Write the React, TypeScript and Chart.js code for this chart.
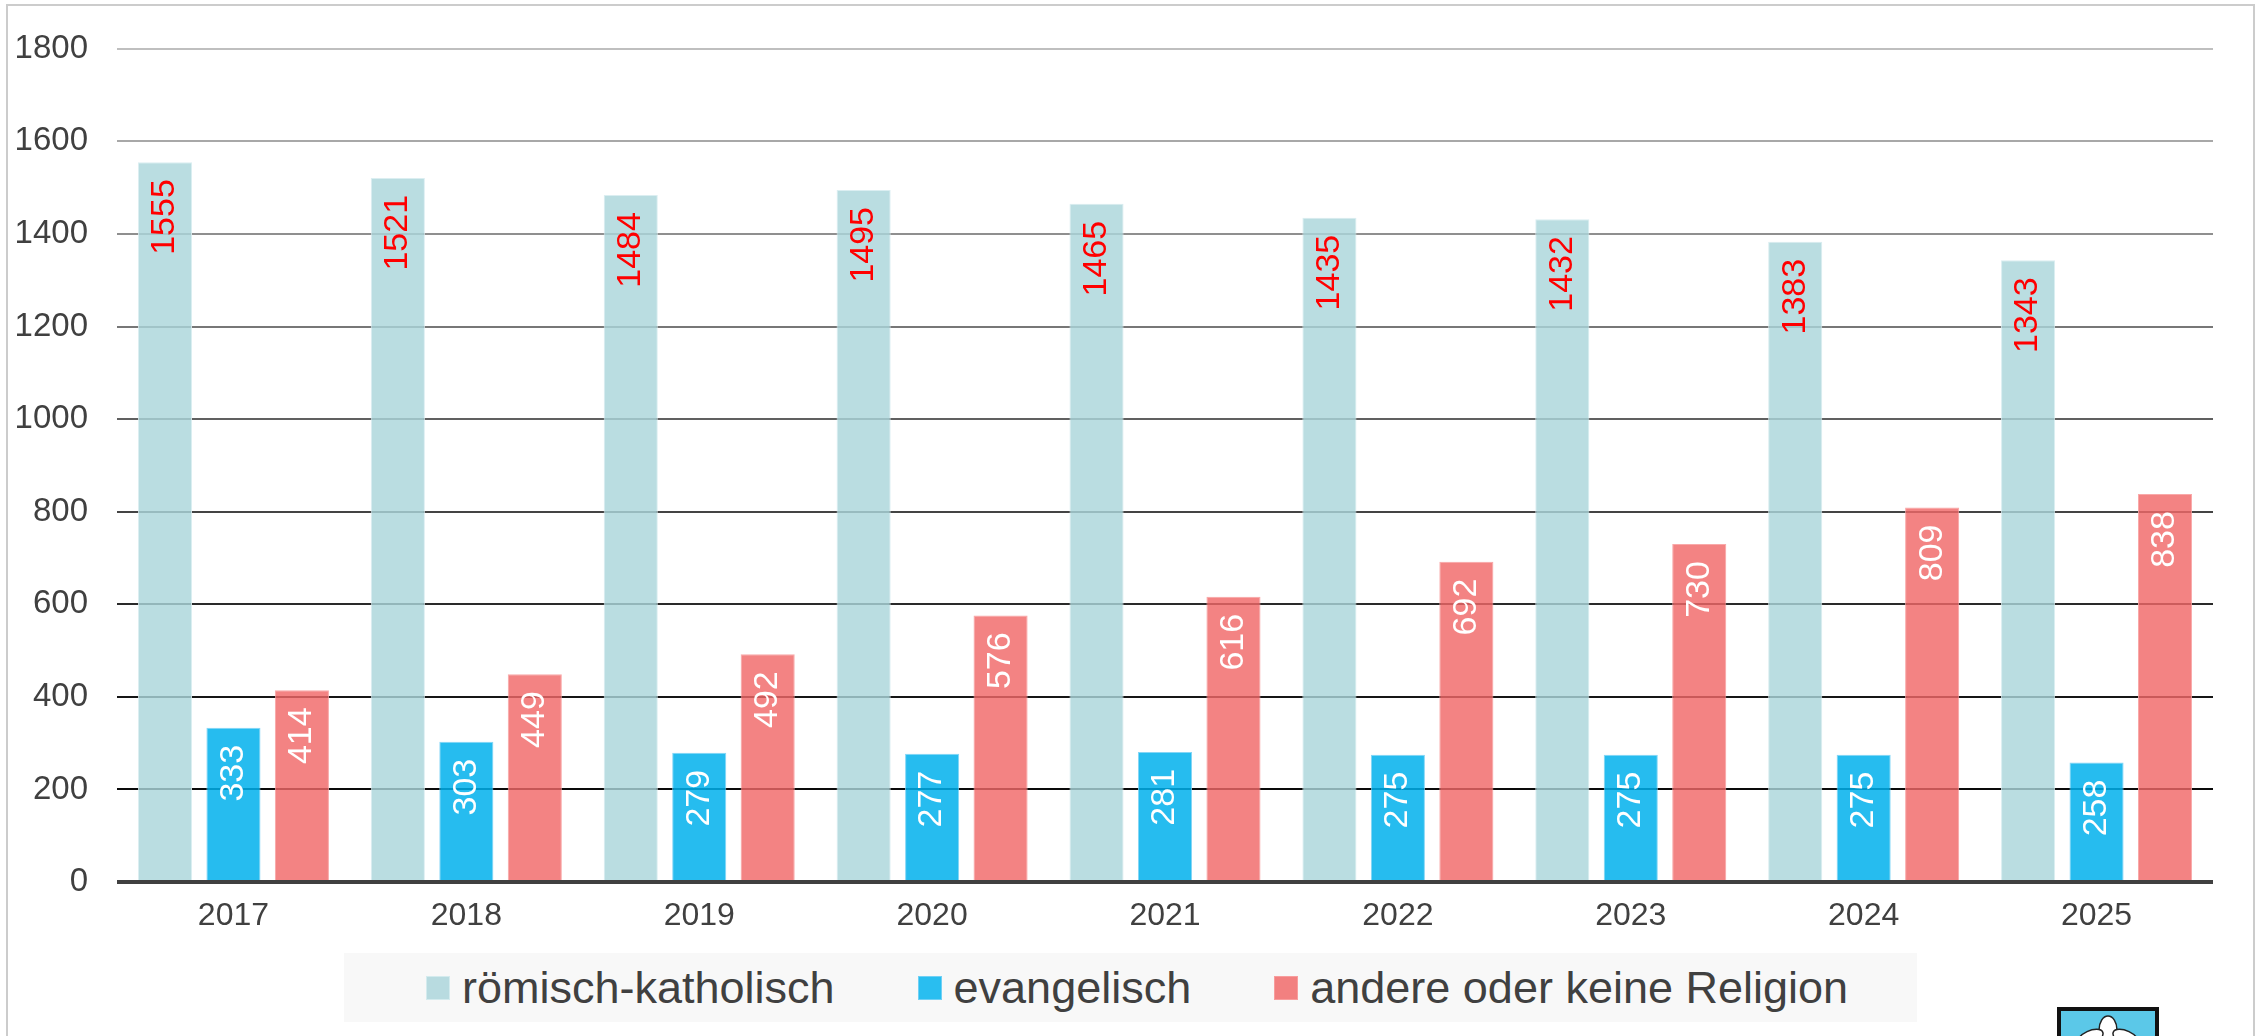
import React, { useEffect, useRef } from "react";
import { Chart, registerables } from "chart.js";

Chart.register(...registerables);

const years = ["2017", "2018", "2019", "2020", "2021", "2022", "2023", "2024", "2025"];
const katholisch = [1555, 1521, 1484, 1495, 1465, 1435, 1432, 1383, 1343];
const evangelisch = [333, 303, 279, 277, 281, 275, 275, 275, 258];
const andere = [414, 449, 492, 576, 616, 692, 730, 809, 838];
const seriesNames = ["römisch-katholisch", "evangelisch", "andere oder keine Religion"];
const yMin = 0;
const yMax = 1800;
const yStep = 200;

const barColors = ["rgba(171,213,219,0.82)", "rgba(0,176,236,0.85)", "rgba(240,104,104,0.82)"];
const legendColors = ["#B8DBE0", "#29BEF0", "#F28080"];
const barBorders = ["rgba(215,236,240,0.9)", "rgba(120,210,245,0.9)", "rgba(248,160,160,0.9)"];
const labelColors = ["#FF0000", "#FFFFFF", "#FFFFFF"];
const gridColors = ["#404040", "#0a0a0a", "#161616", "#2a2a2a", "#444444", "#606060", "#777777", "#8f8f8f", "#a8a8a8", "#bfbfbf"];

const FONT = '"Liberation Sans", Arial, sans-serif';

const labelPlugin = {
  id: "barLabels",
  afterDatasetsDraw(chart: any) {
    const ctx = chart.ctx;
    chart.data.datasets.forEach((ds: any, di: number) => {
      const meta = chart.getDatasetMeta(di);
      meta.data.forEach((bar: any, i: number) => {
        const v = ds.data[i];
        ctx.save();
        ctx.translate(bar.x, bar.y + 17);
        ctx.rotate(-Math.PI / 2);
        ctx.textAlign = "right";
        ctx.textBaseline = "middle";
        ctx.fillStyle = labelColors[di];
        ctx.font = `34px ${FONT}`;
        ctx.fillText(String(v), 0, 0);
        ctx.restore();
      });
    });
  },
};

function ChartCanvas() {
  const ref = useRef<HTMLCanvasElement | null>(null);
  useEffect(() => {
    if (!ref.current) return;
    const chart = new Chart(ref.current, {
      type: "bar",
      data: {
        labels: years,
        datasets: [katholisch, evangelisch, andere].map((d, i) => ({
          label: seriesNames[i],
          data: d,
          backgroundColor: barColors[i],
          borderColor: barBorders[i],
          borderWidth: 1,
          categoryPercentage: 0.882,
          barPercentage: 0.79,
        })),
      },
      options: {
        animation: false,
        responsive: false,
        maintainAspectRatio: false,
        devicePixelRatio: 1,
        events: [],
        layout: { padding: { top: 44, right: 49, left: 0, bottom: 0 } },
        plugins: { legend: { display: false }, tooltip: { enabled: false } },
        scales: {
          x: {
            grid: { display: false, drawTicks: false },
            border: { display: false },
            ticks: { color: "#404040", font: { size: 32, family: FONT }, padding: 15, maxRotation: 0 },
            afterFit: (s: any) => {
              s.height = 154;
            },
          },
          y: {
            min: yMin,
            max: yMax,
            border: { display: false },
            grid: {
              drawTicks: false,
              color: (c: any) => gridColors[c.index] || "#bfbfbf",
              lineWidth: (c: any) => (c.index === 0 ? 4 : 2),
            },
            ticks: {
              stepSize: yStep,
              color: "#404040",
              font: { size: 33, family: FONT },
              padding: 29,
              callback: (v: any) => String(v),
            },
            afterFit: (s: any) => {
              s.width = 117;
            },
          },
        },
      },
      plugins: [labelPlugin],
    } as any);
    return () => chart.destroy();
  }, []);
  return <canvas ref={ref} width={2262} height={1036} style={{ position: "absolute", left: 0, top: 0, width: 2262, height: 1036 }} />;
}

function Logo() {
  return (
    <svg width={104} height={40} viewBox="0 0 104 40" style={{ position: "absolute", left: 2056, top: 1006 }}>
      <path d="M3,3 H101 V60 H3 Z" fill="#5BC8E8" stroke="#111" strokeWidth={4} />
      <ellipse cx={52} cy={24} rx={9} ry={14} fill="#fff" stroke="#222" strokeWidth={1.5} />
      <ellipse cx={34} cy={32} rx={14} ry={7} fill="#fff" stroke="#222" strokeWidth={1.5} transform="rotate(-25 34 32)" />
      <ellipse cx={70} cy={32} rx={14} ry={7} fill="#fff" stroke="#222" strokeWidth={1.5} transform="rotate(25 70 32)" />
    </svg>
  );
}

export default function App() {
  return (
    <div style={{ position: "absolute", left: 0, top: 0, width: 2262, height: 1036, overflow: "hidden", background: "#fff" }}>
      <div style={{ position: "absolute", left: 6, top: 4, width: 2245, height: 1100, border: "2px solid #cccccc" }} />
      <ChartCanvas />
      <div
        style={{
          position: "absolute",
          left: 344,
          top: 953,
          width: 1573,
          height: 69,
          background: "#f8f8f8",
          display: "flex",
          alignItems: "center",
          justifyContent: "center",
          paddingLeft: 13,
          boxSizing: "border-box",
          fontFamily: FONT,
          fontSize: 45,
          color: "#404040",
          gap: 83,
        }}
      >
        {seriesNames.map((n, i) => (
          <div key={n} style={{ display: "flex", alignItems: "center", whiteSpace: "nowrap" }}>
            <span style={{ display: "inline-block", width: 24, height: 24, background: legendColors[i], marginRight: 12, boxSizing: "border-box", border: `1px solid ${barBorders[i]}` }} />
            <span>{n}</span>
          </div>
        ))}
      </div>
      <Logo />
    </div>
  );
}
